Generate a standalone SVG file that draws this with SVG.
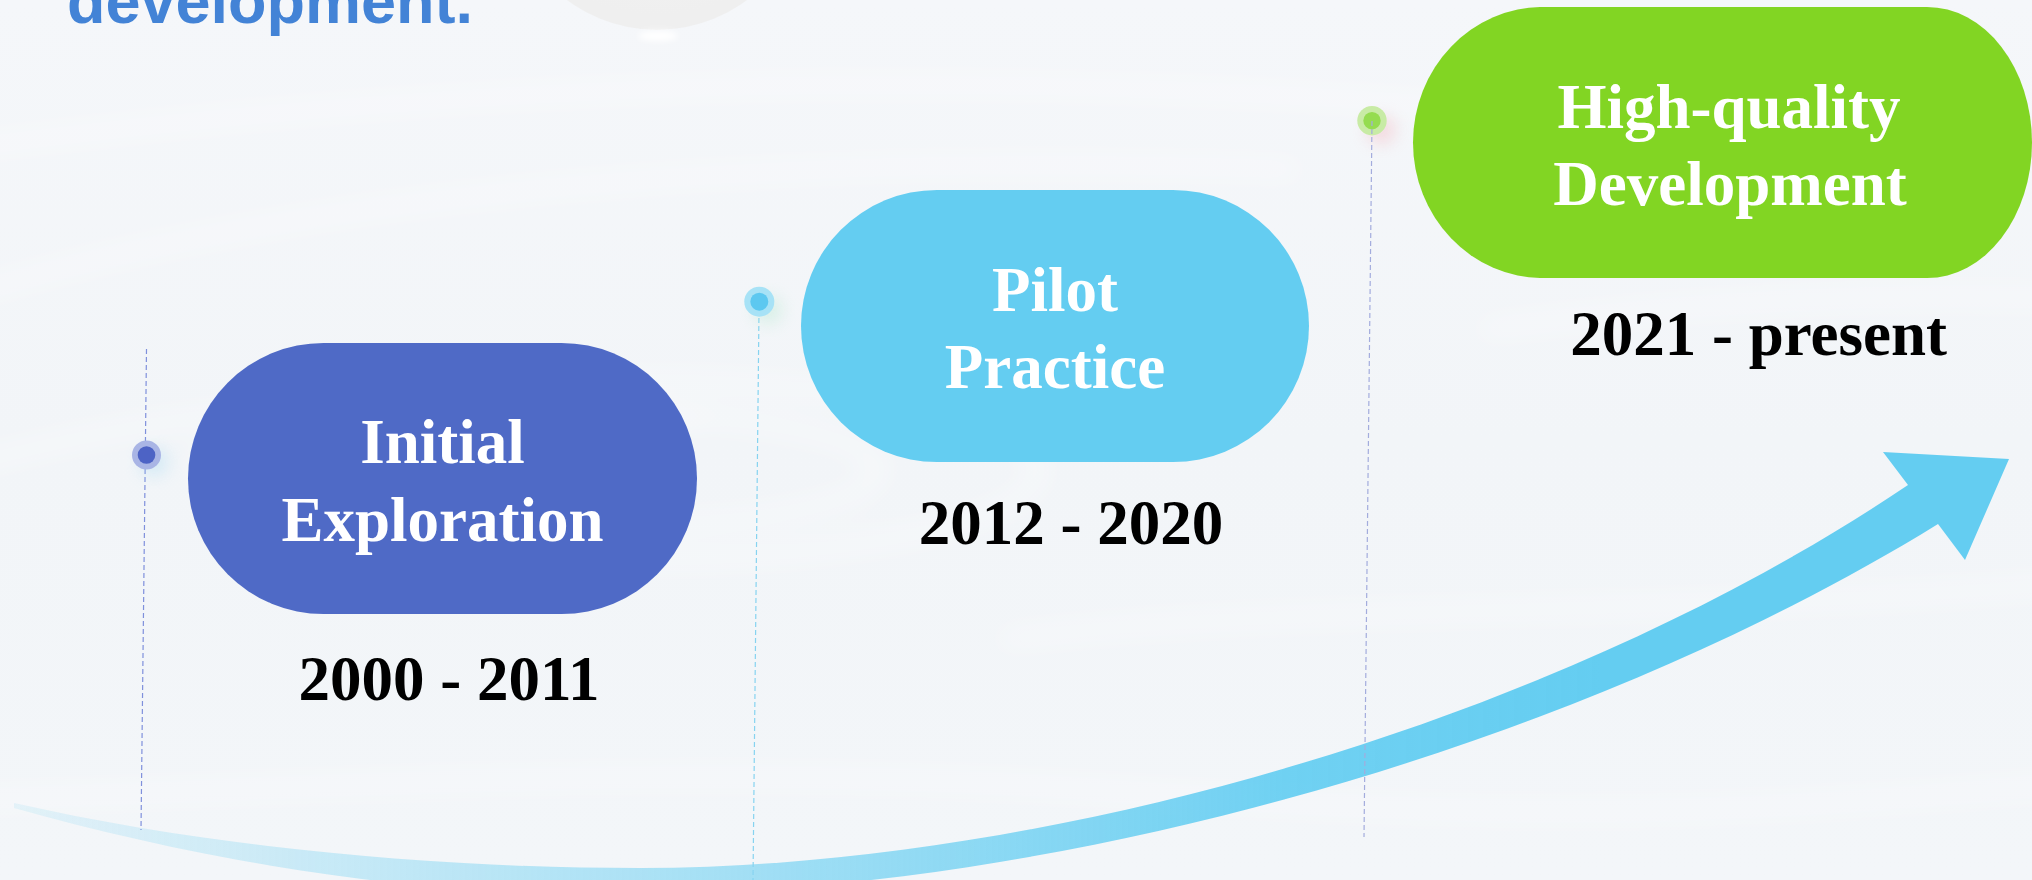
<svg xmlns="http://www.w3.org/2000/svg" width="2032" height="880" viewBox="0 0 2032 880">
  <defs>
    <style>
      .label { font-family: "Liberation Serif", "Times New Roman", serif; font-weight: bold; font-size: 63px; text-anchor: middle; }
      .name { fill: #ffffff; }
      .year { fill: #000000; }
      .guide { fill: none; stroke-width: 1.2; stroke-dasharray: 5 3; }
      .ripple { fill: none; stroke: #ffffff; stroke-width: 10; opacity: 0.7; }
    </style>
    <linearGradient id="bg" x1="0" y1="0" x2="0" y2="1">
      <stop offset="0" stop-color="#f5f7fa"/>
      <stop offset="0.5" stop-color="#f2f5f8"/>
      <stop offset="1" stop-color="#f3f6f9"/>
    </linearGradient>
    <linearGradient id="arrowFill" gradientUnits="userSpaceOnUse" x1="14" y1="0" x2="1600" y2="0">
      <stop offset="0" stop-color="#64cdf1" stop-opacity="0.12"/>
      <stop offset="0.4" stop-color="#64cdf1" stop-opacity="0.5"/>
      <stop offset="0.8" stop-color="#64cdf1" stop-opacity="0.92"/>
      <stop offset="1" stop-color="#64cdf1" stop-opacity="1"/>
    </linearGradient>
    <radialGradient id="drop" cx="0.5" cy="0.35" r="0.6">
      <stop offset="0" stop-color="#f6f6f6"/>
      <stop offset="1" stop-color="#efefef"/>
    </radialGradient>
    <filter id="soft" x="-50%" y="-50%" width="200%" height="200%">
      <feGaussianBlur stdDeviation="8"/>
    </filter>
    <filter id="haze" x="-20%" y="-50%" width="140%" height="200%">
      <feGaussianBlur stdDeviation="14"/>
    </filter>
    <filter id="glint" x="-100%" y="-200%" width="300%" height="500%">
      <feGaussianBlur stdDeviation="3"/>
    </filter>
  </defs>

  <!-- backdrop: pale water surface -->
  <rect x="0" y="0" width="2032" height="880" fill="url(#bg)"/>
  <g id="backdrop" filter="url(#haze)">
    <path class="ripple" d="M-50,150 C400,90 900,60 1500,110 S2000,160 2100,120"/>
    <path class="ripple" d="M-50,300 C300,190 800,150 1300,170"/>
    <path class="ripple" d="M-50,470 C200,400 450,380 700,420"/>
    <ellipse class="ripple" cx="620" cy="470" rx="420" ry="90" opacity="0.5"/>
    <ellipse class="ripple" cx="620" cy="470" rx="260" ry="55" opacity="0.4"/>
    <path class="ripple" d="M-50,800 C300,790 700,760 1100,790 S1700,820 2100,780" stroke-width="22"/>
    <path class="ripple" d="M1000,640 C1300,600 1700,620 2100,580" opacity="0.5"/>
    <path class="ripple" d="M1480,330 C1700,300 1900,290 2100,300" opacity="0.6"/>
  </g>

  <!-- droplet at the top edge -->
  <g id="droplet">
    <circle cx="657" cy="-120" r="150" fill="url(#drop)"/>
    <ellipse cx="658" cy="36" rx="20" ry="5" fill="#ffffff" filter="url(#glint)"/>
  </g>

  <!-- heading fragment -->
  <text x="67" y="23" font-family="'Liberation Sans', Arial, sans-serif" font-weight="bold" font-size="63" fill="#4383d6">development.</text>

  <g id="connectors">
    <!-- rising arrow along the bottom -->
    <path id="trend-arrow" fill="url(#arrowFill)" d="M14,803 C200,845 420,868 640,868 C1050,868 1560,720 1908,485 L1883,452 L2009,459 L1965,560 L1938,524 C1580,745 1060,895 620,895 C400,895 200,860 14,808 Z"/>
    <!-- dashed guides dropping from each marker -->
    <line class="guide" x1="146.5" y1="349" x2="141" y2="830" stroke="#7f90dc"/>
    <line class="guide" x1="759" y1="310" x2="753" y2="880" stroke="#86d3f0"/>
  </g>

  <!-- markers -->
  <g id="marker-1">
    <circle cx="154" cy="462" r="14" fill="#9fd8f3" opacity="0.35" filter="url(#soft)"/>
    <circle cx="146.5" cy="455" r="14.5" fill="#a9b5e5"/>
    <circle cx="146.5" cy="455" r="8.8" fill="#4d63c5"/>
  </g>
  <g id="marker-2">
    <circle cx="768" cy="310" r="14" fill="#a9e6c8" opacity="0.35" filter="url(#soft)"/>
    <circle cx="759.3" cy="301.7" r="15" fill="#a7e2f6"/>
    <circle cx="759.3" cy="301.7" r="9" fill="#5cc8f0"/>
  </g>
  <g id="marker-3">
    <circle cx="1381" cy="130" r="14" fill="#f4b0b8" opacity="0.4" filter="url(#soft)"/>
    <circle cx="1372" cy="120.7" r="14.7" fill="#c8eba5"/>
    <circle cx="1372" cy="120.7" r="8.7" fill="#95dc50"/>
  </g>
  <g id="guide-3">
    <line class="guide" x1="1372" y1="121" x2="1364" y2="837" stroke="#a3acdd"/>
  </g>

  <!-- stage 1 -->
  <g id="stage-initial-exploration">
    <rect x="188" y="343" width="509" height="271" rx="135.5" fill="#4f6ac6"/>
    <text class="label name" x="442.5" y="463">Initial</text>
    <text class="label name" x="442.5" y="541">Exploration</text>
    <text class="label year" x="449" y="700">2000 - 2011</text>
  </g>

  <!-- stage 2 -->
  <g id="stage-pilot-practice">
    <rect x="801" y="190" width="508" height="272" rx="136" fill="#64cdf1"/>
    <text class="label name" x="1055" y="311">Pilot</text>
    <text class="label name" x="1055" y="388">Practice</text>
    <text class="label year" x="1071" y="544">2012 - 2020</text>
  </g>

  <!-- stage 3 -->
  <g id="stage-high-quality-development">
    <path d="M1543,7 H1927 A105,135.5 0 0 1 1927,278 H1543 A130,135.5 0 0 1 1543,7 Z" fill="#82d523"/>
    <text class="label name" x="1729" y="128">High-quality</text>
    <text class="label name" x="1730" y="205">Development</text>
    <text class="label year" x="1758.7" y="355">2021 - present</text>
  </g>
</svg>
